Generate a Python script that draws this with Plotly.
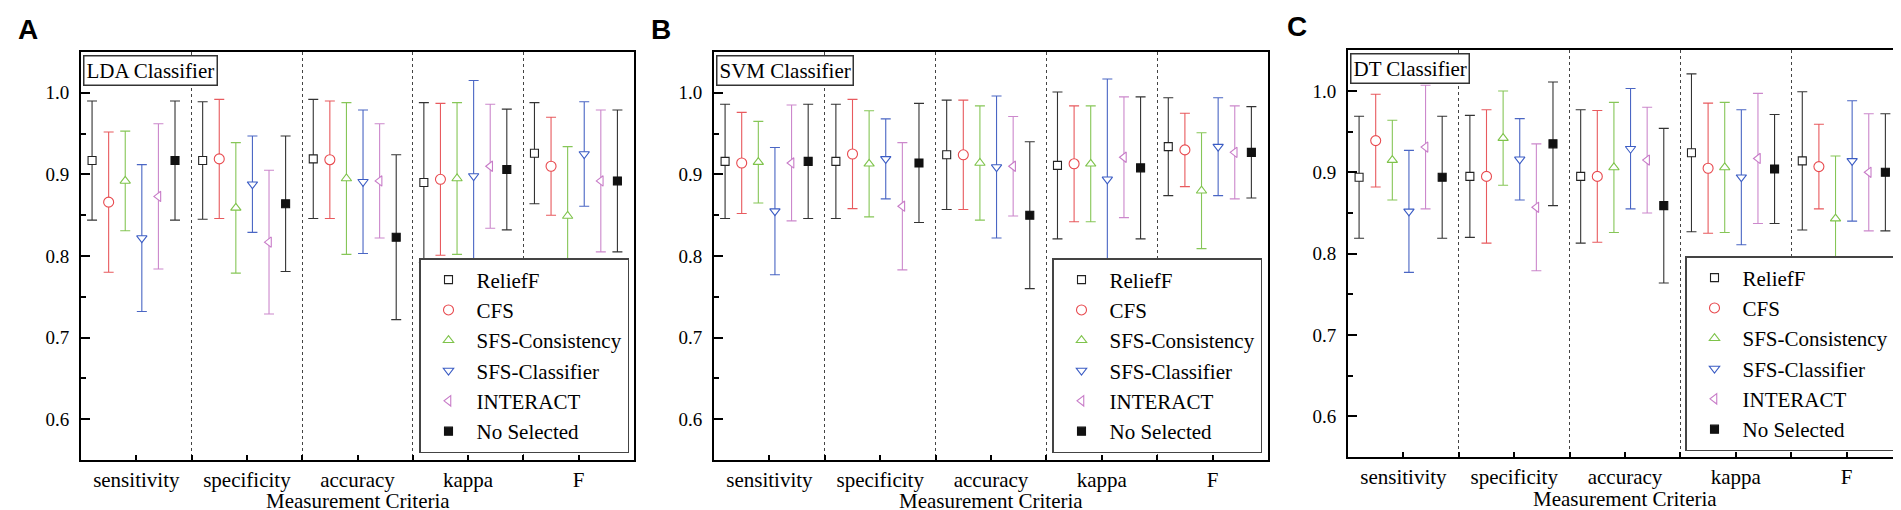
import plotly.graph_objects as go

# ---------------- data ----------------
criteria = ["sensitivity", "specificity", "accuracy", "kappa", "F"]
methods = ["ReliefF", "CFS", "SFS-Consistency", "SFS-Classifier", "INTERACT", "No Selected"]
panel_titles = ["LDA Classifier", "SVM Classifier", "DT Classifier"]
panel_letters = ["A", "B", "C"]
x_title = "Measurement Criteria"

# mean values, rows = methods, columns = criteria
lda_mean = [
    [0.917, 0.917, 0.919, 0.890, 0.926],
    [0.866, 0.919, 0.918, 0.894, 0.910],
    [0.892, 0.859, 0.895, 0.895, 0.849],
    [0.822, 0.888, 0.891, 0.898, 0.925],
    [0.873, 0.817, 0.892, 0.910, 0.892],
    [0.917, 0.864, 0.823, 0.906, 0.892],
]
lda_sd = [
    [0.073, 0.072, 0.073, 0.098, 0.062],
    [0.086, 0.073, 0.072, 0.093, 0.060],
    [0.061, 0.080, 0.093, 0.093, 0.085],
    [0.090, 0.059, 0.088, 0.117, 0.064],
    [0.089, 0.088, 0.070, 0.076, 0.087],
    [0.073, 0.083, 0.101, 0.074, 0.087],
]
svm_mean = [
    [0.916, 0.916, 0.924, 0.911, 0.934],
    [0.914, 0.925, 0.924, 0.913, 0.930],
    [0.915, 0.913, 0.914, 0.913, 0.880],
    [0.855, 0.919, 0.909, 0.894, 0.934],
    [0.914, 0.861, 0.910, 0.921, 0.927],
    [0.916, 0.914, 0.850, 0.908, 0.927],
]
svm_sd = [
    [0.070, 0.070, 0.067, 0.090, 0.060],
    [0.062, 0.067, 0.067, 0.071, 0.045],
    [0.050, 0.065, 0.070, 0.071, 0.071],
    [0.078, 0.049, 0.087, 0.123, 0.060],
    [0.071, 0.078, 0.061, 0.074, 0.057],
    [0.070, 0.073, 0.090, 0.087, 0.056],
]
dt_mean = [
    [0.894, 0.895, 0.895, 0.924, 0.914],
    [0.939, 0.895, 0.895, 0.905, 0.907],
    [0.915, 0.942, 0.906, 0.906, 0.843],
    [0.852, 0.916, 0.929, 0.894, 0.914],
    [0.931, 0.857, 0.915, 0.917, 0.900],
    [0.894, 0.935, 0.859, 0.904, 0.900],
]
dt_sd = [
    [0.075, 0.075, 0.082, 0.097, 0.085],
    [0.057, 0.082, 0.081, 0.080, 0.052],
    [0.049, 0.058, 0.080, 0.080, 0.077],
    [0.075, 0.050, 0.074, 0.083, 0.074],
    [0.076, 0.078, 0.065, 0.080, 0.072],
    [0.075, 0.076, 0.095, 0.067, 0.072],
]

# ---------------- styling ----------------
SERIF = "Liberation Serif, Times New Roman, DejaVu Serif, serif"
SANS = "Liberation Sans, Arial, DejaVu Sans, sans-serif"
colors = ["#222222", "#e84a4f", "#7ec34a", "#3b5cc4", "#c87cc8", "#111111"]
err_colors = ["#333333", "#e85a5e", "#86c657", "#4a66c4", "#cc88cc", "#333333"]
symbols = ["square", "circle", "triangle-up", "triangle-down", "triangle-left", "square"]
sizes = [8, 10, 9, 9, 9, 8]
fills = ["white", "white", "white", "white", "white", "#111111"]
offsets = [-0.40, -0.25, -0.10, 0.05, 0.20, 0.35]

W, H = 1901, 510
x_domains = [[73 / W, 626 / W], [706 / W, 1260 / W], [1340 / W, 1894 / W]]
y_domains = [[1 - 452 / H, 1 - 44 / H], [1 - 452 / H, 1 - 44 / H], [1 - 449 / H, 1 - 42.3 / H]]
legend_pos = [(621 / W, 1 - 445 / H), (1254 / W, 1 - 445 / H), (1887 / W, 1 - 443 / H)]
letter_pos = [(20 / W, 1 - 22 / H), (653 / W, 1 - 22 / H), (1289 / W, 1 - 19 / H)]
xtitle_y = [1 - 493 / H, 1 - 493 / H, 1 - 491 / H]

means = [lda_mean, svm_mean, dt_mean]
sds = [lda_sd, svm_sd, dt_sd]

positions = list(range(1, len(criteria) + 1))

fig = go.Figure()
for p in range(3):
    sfx = "" if p == 0 else str(p + 1)
    for j, m in enumerate(methods):
        fig.add_trace(go.Scatter(
            x=[pos + offsets[j] for pos in positions],
            y=means[p][j],
            mode="markers",
            name=m,
            marker=dict(symbol=symbols[j], size=sizes[j], color=fills[j],
                        line=dict(color=colors[j], width=1.1)),
            error_y=dict(type="data", array=sds[p][j], visible=True,
                         color=err_colors[j], thickness=1.1, width=5),
            xaxis="x" + sfx, yaxis="y" + sfx,
            legend="legend" + sfx,
            showlegend=True,
        ))

layout = dict(
    width=W, height=H,
    margin=dict(l=0, r=0, t=0, b=0),
    paper_bgcolor="white", plot_bgcolor="white",
    font=dict(family=SERIF, color="black"),
    annotations=[],
)

for p in range(3):
    sfx = "" if p == 0 else str(p + 1)
    layout["xaxis" + sfx] = dict(
        domain=x_domains[p], range=[0.5, len(criteria) + 0.5], anchor="y" + sfx,
        tickmode="array", tickvals=positions, ticktext=criteria,
        ticks="inside", ticklen=5, tickwidth=1.5, tickcolor="black",
        showline=True, linecolor="black", linewidth=2, mirror=True,
        showgrid=False, zeroline=False,
        tickfont=dict(family=SERIF, size=21, color="black"),
        minor=dict(tick0=0.5, dtick=1, ticks="inside", ticklen=5, tickwidth=1.5,
                   tickcolor="black", showgrid=True, gridcolor="#444444",
                   griddash="3px,3px", gridwidth=1),
        automargin=False,
    )
    layout["yaxis" + sfx] = dict(
        domain=y_domains[p], range=[0.55, 1.05], anchor="x" + sfx,
        tickmode="linear", tick0=0, dtick=0.1, tickformat=".1f",
        ticks="inside", ticklen=9, tickwidth=1.5, tickcolor="black",
        showline=True, linecolor="black", linewidth=2, mirror=True,
        showgrid=False, zeroline=False,
        tickfont=dict(family=SERIF, size=19, color="black"),
        ticklabelstandoff=6,
        minor=dict(dtick=0.05, ticks="inside", ticklen=5, tickwidth=1.5,
                   tickcolor="black", showgrid=False),
        automargin=False,
    )
    layout["legend" + sfx] = dict(
        x=legend_pos[p][0], y=legend_pos[p][1], xanchor="right", yanchor="bottom",
        xref="paper", yref="paper",
        bgcolor="white", bordercolor="#444444", borderwidth=1.5,
        font=dict(family=SERIF, size=21, color="black"),
        itemwidth=46, tracegroupgap=0,
    )
    layout["annotations"].append(dict(
        text=panel_titles[p], xref="x" + sfx + " domain", yref="y" + sfx + " domain",
        x=0, y=1, xanchor="left", yanchor="top", xshift=2, yshift=-3,
        showarrow=False, bgcolor="white", bordercolor="#333333", borderwidth=1.5,
        borderpad=2, font=dict(family=SERIF, size=21, color="black"),
    ))
    layout["annotations"].append(dict(
        text=x_title, xref="x" + sfx + " domain", yref="paper",
        x=0.5, y=xtitle_y[p], xanchor="center", yanchor="middle",
        showarrow=False, font=dict(family=SERIF, size=21, color="black"),
    ))
    layout["annotations"].append(dict(
        text="<b>" + panel_letters[p] + "</b>", xref="paper", yref="paper",
        x=letter_pos[p][0], y=letter_pos[p][1], xanchor="center", yanchor="middle",
        showarrow=False, font=dict(family=SANS, size=28, color="black"),
    ))

fig.update_layout(**layout)
fig.write_html("out.html")
